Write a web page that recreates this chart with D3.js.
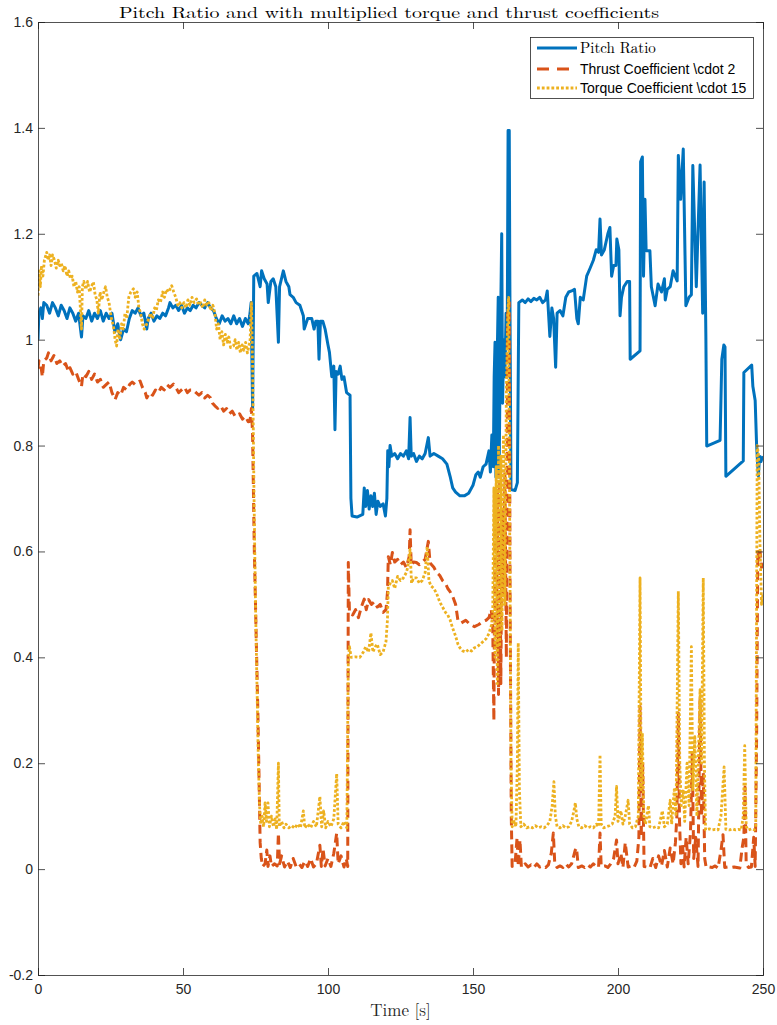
<!DOCTYPE html>
<html>
<head>
<meta charset="utf-8">
<script src="https://cdn.jsdelivr.net/npm/d3@7"></script>
<style>
  body { margin: 0; background: #fff; }
  svg { display: block; }
</style>
</head>
<body>
<script>
const width = 777;
const height = 1025;

const xTicks = [0, 50, 100, 150, 200, 250];
const yTicks = [-0.2, 0, 0.2, 0.4, 0.6, 0.8, 1, 1.2, 1.4, 1.6];

const seriesNames = ['Pitch Ratio', 'Thrust Coefficient \\cdot 2', 'Torque Coefficient \\cdot 15'];

// [time s, value]
const pitchRatio = [
    [0, 1.00], [0.3, 1.05], [1, 1.06], [1.5, 1.04], [2, 1.07], [3, 1.065], [4, 1.05], [5, 1.07],
    [6, 1.06], [7, 1.045], [8, 1.065], [9, 1.055], [10, 1.04], [11, 1.06], [12, 1.05], [13, 1.035],
    [14, 1.05], [15, 1.005], [15.5, 1.045], [16.5, 1.04], [17.5, 1.055], [18.5, 1.035], [19.5, 1.05],
    [20.5, 1.04], [21.5, 1.055], [22.5, 1.035], [23.5, 1.05], [24.5, 1.04], [25.5, 1.05], [26.5, 1.015],
    [27.5, 1.03], [28.5, 1.0], [29.5, 1.02], [30.5, 1.015], [31.5, 1.04], [32.5, 1.055], [33.5, 1.05],
    [34.5, 1.06], [35.5, 1.045], [36.5, 1.05], [37.5, 1.02], [38, 1.04], [39, 1.05], [40, 1.035],
    [41, 1.045], [42, 1.04], [43, 1.05], [44, 1.045], [45, 1.06], [45.5, 1.07], [46.5, 1.06],
    [47.5, 1.065], [48.5, 1.055], [49.5, 1.065], [50.5, 1.05], [51.5, 1.06], [52.5, 1.055],
    [53.5, 1.065], [54.5, 1.06], [55.5, 1.07], [56.5, 1.065], [57.5, 1.06], [58.5, 1.07], [59.5, 1.06],
    [60.5, 1.055], [61.5, 1.04], [62.5, 1.03], [63.5, 1.045], [64.5, 1.035], [65.5, 1.04], [66.5, 1.03],
    [67.5, 1.045], [68.5, 1.03], [69.5, 1.04], [70.5, 1.025], [71.5, 1.04], [72.5, 1.03], [73, 1.045],
    [73.5, 1.07], [74, 0.87], [74.4, 1.12], [75.5, 1.125], [76.6, 1.1], [77.1, 1.13], [78, 1.115],
    [79, 1.105], [79.4, 1.07], [80.3, 1.11], [81.1, 1.115], [82, 1.1], [82.9, 0.995], [83.3, 1.1],
    [84.6, 1.13], [85.5, 1.11], [86.5, 1.1], [86.9, 1.085], [88, 1.08], [89, 1.07], [90.3, 1.065],
    [91.5, 1.045], [91.8, 1.02], [93, 1.04], [94.4, 1.04], [95.2, 1.02], [95.8, 1.035], [96.5, 1.035],
    [96.9, 0.963], [97.4, 1.035], [98.2, 1.035], [99, 1.02], [100, 0.99], [100.5, 0.976], [101.3, 0.93],
    [102, 0.95], [102.4, 0.83], [102.8, 0.94], [103.5, 0.935], [104.2, 0.95], [104.8, 0.925],
    [105.5, 0.93], [106.4, 0.9], [107.6, 0.895], [107.9, 0.70], [108.3, 0.667], [110, 0.665],
    [112, 0.67], [112.5, 0.72], [113, 0.685], [113.6, 0.715], [114.2, 0.68], [114.8, 0.705],
    [115.4, 0.685], [116, 0.71], [116.6, 0.67], [117.2, 0.695], [118, 0.685], [119, 0.69],
    [119.8, 0.667], [120.3, 0.70], [120.6, 0.79], [121, 0.76], [121.4, 0.80], [122, 0.78],
    [123, 0.785], [124, 0.775], [125, 0.785], [126, 0.78], [127, 0.79], [127.8, 0.775], [128.3, 0.853],
    [128.7, 0.78], [129.5, 0.785], [130.5, 0.77], [131.5, 0.78], [132.5, 0.775], [133.5, 0.785],
    [134.6, 0.815], [135.2, 0.78], [136.5, 0.785], [138, 0.78], [139.5, 0.775], [141, 0.765],
    [142.1, 0.742], [143, 0.72], [144, 0.712], [145.5, 0.705], [147, 0.705], [148.5, 0.71],
    [150, 0.725], [151, 0.745], [151.8, 0.75], [152.5, 0.74], [153.5, 0.76], [154.5, 0.765],
    [155.5, 0.79], [156, 0.75], [156.5, 0.82], [157, 0.76], [157.3, 0.93], [157.6, 0.995],
    [157.9, 0.74], [158.3, 0.95], [158.7, 1.08], [159, 0.74], [159.4, 0.98], [159.9, 1.2],
    [160.2, 0.88], [160.6, 1.0], [161, 0.93], [161.4, 1.05], [161.8, 1.0], [162.1, 1.395],
    [162.5, 1.395], [162.7, 1.114], [163.1, 0.717], [164.5, 0.715], [165.3, 0.73], [165.8, 1.07],
    [167, 1.075], [168, 1.07], [169, 1.077], [170, 1.072], [171, 1.078], [172, 1.075], [173, 1.08],
    [174, 1.07], [175, 1.075], [175.6, 1.092], [176.5, 1.006], [177.2, 1.06], [177.8, 1.04],
    [178.5, 0.948], [179, 1.05], [180, 1.055], [181, 1.045], [182, 1.08], [183, 1.09], [184, 1.092],
    [185, 1.095], [185.8, 1.04], [186.3, 1.03], [187, 1.08], [188, 1.075], [189.2, 1.12],
    [190.3, 1.134], [191.5, 1.15], [192.5, 1.17], [193.3, 1.165], [193.8, 1.228], [194.3, 1.16],
    [195.3, 1.17], [196.5, 1.20], [197.2, 1.212], [197.8, 1.12], [198.5, 1.14], [199.3, 1.14],
    [199.6, 1.19], [200.3, 1.17], [200.7, 1.045], [201.2, 1.08], [202, 1.10], [203.2, 1.11],
    [204, 1.11], [204.2, 0.963], [207.6, 0.979], [207.8, 1.336], [208.4, 1.345], [208.8, 1.12],
    [209.3, 1.265], [209.7, 1.168], [211, 1.168], [211.5, 1.10], [212.8, 1.064], [213.8, 1.105],
    [215, 1.09], [216, 1.115], [216.3, 1.075], [217, 1.095], [218, 1.10], [219, 1.13], [220.4, 1.111],
    [220.8, 1.348], [221.6, 1.265], [222.5, 1.36], [223.4, 1.064], [224.5, 1.08], [225.3, 1.085],
    [225.8, 1.329], [227, 1.10], [228.3, 1.33], [229.2, 1.05], [229.7, 1.298], [230.3, 1.007],
    [230.6, 0.799], [235.2, 0.81], [235.8, 0.963], [236.5, 0.99], [236.9, 0.986], [237.2, 0.742],
    [243.2, 0.771], [243.4, 0.938], [246.1, 0.952], [246.5, 0.912], [247.3, 0.885], [247.8, 0.80],
    [248.4, 0.742], [248.8, 0.78], [249.3, 0.77], [249.6, 0.775], [250, 0.78]
];

const thrustCoef = [
    [0, 0.945], [0.3, 0.96], [1, 0.95], [1.5, 0.93], [2, 0.96], [3, 0.965], [3.6, 0.975], [4.5, 0.96],
    [5.5, 0.97], [6.5, 0.955], [7.5, 0.96], [8.5, 0.95], [9.5, 0.955], [10.5, 0.94], [11, 0.947],
    [12, 0.935], [13, 0.94], [14, 0.925], [15, 0.912], [15.5, 0.935], [16.5, 0.93], [17.5, 0.94],
    [18.5, 0.925], [19.5, 0.935], [20.5, 0.92], [21.5, 0.925], [22.5, 0.91], [23.5, 0.915],
    [24.5, 0.92], [25.5, 0.9], [26.6, 0.887], [27.5, 0.9], [28.5, 0.895], [29.5, 0.91], [30.5, 0.905],
    [31.7, 0.916], [32.5, 0.92], [33.5, 0.915], [34.5, 0.92], [35.2, 0.922], [36, 0.91], [37, 0.9],
    [37.5, 0.89], [38.5, 0.9], [39.5, 0.895], [40.5, 0.905], [41.5, 0.9], [42.5, 0.91], [43.5, 0.905],
    [44.5, 0.915], [45.5, 0.91], [46.7, 0.916], [47.5, 0.91], [48.5, 0.9], [49.5, 0.905], [50.5, 0.91],
    [51.5, 0.9], [52.5, 0.905], [53.6, 0.905], [54.5, 0.9], [55.5, 0.895], [56.5, 0.9], [57.5, 0.89],
    [58.5, 0.895], [59.5, 0.89], [60.2, 0.88], [61, 0.875], [62, 0.87], [63, 0.875], [64, 0.865],
    [65, 0.87], [66, 0.86], [67, 0.865], [68, 0.855], [68.5, 0.856], [69.5, 0.86], [70.5, 0.85],
    [71.5, 0.855], [72.5, 0.845], [73.1, 0.846], [73.6, 0.87], [74, 0.82], [74.6, 0.6], [75.2, 0.45],
    [75.8, 0.3], [76.3, 0.15], [76.6, 0.05], [77, 0.02], [77.5, 0.005], [78.3, 0.01], [78.9, 0.036],
    [79.3, 0.005], [80, 0.025], [80.5, 0.005], [81.5, 0.01], [82.5, 0.006], [82.9, 0.068], [83.3, 0.01],
    [84, 0.025], [85, 0.004], [86, 0.015], [87, 0.003], [88, 0.02], [89, 0.005], [90, 0.01],
    [91, 0.003], [92, 0.015], [93, 0.005], [94, 0.02], [95, 0.004], [96, 0.01], [97.2, 0.045],
    [97.7, 0.005], [98.3, 0.038], [99, 0.006], [100, 0.02], [101, 0.005], [102, 0.03], [103, 0.068],
    [103.5, 0.01], [104.5, 0.025], [105.5, 0.004], [106.3, 0.02], [106.8, 0.005], [107, 0.579],
    [107.4, 0.484], [108.5, 0.48], [109.5, 0.49], [110.5, 0.475], [111.5, 0.495], [112.5, 0.51],
    [113.2, 0.49], [114, 0.509], [115, 0.5], [116, 0.505], [117, 0.495], [118, 0.5], [119, 0.485],
    [120, 0.49], [120.5, 0.522], [120.8, 0.59], [121.5, 0.575], [122.2, 0.598], [123, 0.58],
    [124, 0.585], [125, 0.575], [126, 0.58], [127, 0.57], [128, 0.59], [128.3, 0.641], [128.7, 0.575],
    [129.5, 0.58], [130.5, 0.579], [131.5, 0.575], [132.5, 0.58], [133.5, 0.585], [134.6, 0.619],
    [135.2, 0.578], [136.5, 0.57], [137.5, 0.56], [138.5, 0.555], [139.5, 0.545], [140.5, 0.54],
    [141.3, 0.53], [142.1, 0.524], [143, 0.515], [144, 0.5], [144.8, 0.47], [146, 0.465],
    [147.5, 0.47], [149, 0.462], [150.5, 0.458], [152, 0.462], [153.5, 0.468], [154.5, 0.47],
    [155.5, 0.475], [156.3, 0.49], [156.8, 0.46], [157.2, 0.28], [157.6, 0.7], [158, 0.42],
    [158.4, 0.72], [158.8, 0.33], [159.2, 0.75], [159.6, 0.35], [160, 0.68], [160.5, 0.52],
    [161, 0.75], [161.5, 0.4], [162, 1.05], [162.5, 1.07], [162.8, 0.5], [163.2, 0.1], [163.5, 0.005],
    [164.5, 0.01], [165.2, 0.06], [165.6, 0.005], [166.2, 0.055], [166.7, 0.003], [168, 0.01],
    [169, 0.004], [170, 0.008], [171, 0.003], [172, 0.01], [173, 0.004], [174, 0.006], [175, 0.003],
    [176, 0.008], [177, 0.03], [177.7, 0.068], [178.2, 0.01], [179, 0.003], [180, 0.006], [181, 0.003],
    [182, 0.01], [183, 0.004], [184, 0.01], [185.2, 0.035], [185.7, 0.04], [186.3, 0.003],
    [187.5, 0.006], [188.5, 0.003], [189.5, 0.008], [190.5, 0.004], [191.5, 0.01], [192.5, 0.005],
    [193.3, 0.003], [193.8, 0.068], [194.2, 0.005], [195.5, 0.006], [196.5, 0.003], [197.5, 0.01],
    [198.5, 0.02], [199.5, 0.055], [200, 0.01], [201, 0.03], [201.7, 0.003], [202.5, 0.05],
    [203.5, 0.004], [204.5, 0.006], [205.5, 0.003], [206.5, 0.015], [207.2, 0.06], [207.6, 0.307],
    [208, 0.06], [208.5, 0.2], [209, 0.005], [210, 0.004], [211, 0.002], [212, 0.02], [213, 0.003],
    [214, 0.025], [215, 0.006], [216, 0.035], [217, 0.004], [218, 0.04], [219, 0.01], [219.8, 0.05],
    [220.3, 0.1], [220.8, 0.295], [221.2, 0.093], [221.7, 0.01], [222.2, 0.05], [222.8, 0.004],
    [223.5, 0.06], [224.2, 0.01], [225, 0.07], [225.6, 0.219], [226.1, 0.02], [226.8, 0.06],
    [227.6, 0.005], [228.3, 0.32], [228.8, 0.1], [229.4, 0.182], [229.9, 0.02], [230.4, 0.003],
    [231.5, 0.004], [232.5, 0.003], [233.5, 0.006], [234.5, 0.002], [235.5, 0.035], [236.2, 0.065],
    [236.8, 0.003], [238, 0.004], [239, 0.003], [240, 0.004], [241, 0.003], [242, 0.002],
    [242.8, 0.04], [243.4, 0.06], [243.8, 0.155], [244.2, 0.01], [245, 0.003], [246, 0.004],
    [246.8, 0.06], [247.3, 0.005], [247.8, 0.25], [248.2, 0.6], [248.6, 0.585], [249, 0.6],
    [249.5, 0.57], [250, 0.585]
];

const torqueCoef = [
    [0, 1.083], [0.4, 1.13], [0.8, 1.1], [1.2, 1.14], [1.7, 1.12], [2.2, 1.15], [3, 1.165], [3.5, 1.15],
    [4, 1.16], [4.5, 1.14], [5, 1.16], [5.7, 1.15], [6.3, 1.135], [7, 1.15], [7.5, 1.14], [8, 1.145],
    [8.7, 1.13], [9.3, 1.14], [10, 1.12], [10.6, 1.13], [11.2, 1.115], [11.8, 1.12], [12.4, 1.1],
    [13, 1.11], [13.6, 1.09], [14.2, 1.10], [14.5, 1.07], [15, 1.02], [15.3, 1.10], [15.8, 1.11],
    [16.5, 1.095], [17.1, 1.11], [17.8, 1.09], [18.4, 1.1], [19.1, 1.109], [19.7, 1.085],
    [20.3, 1.075], [20.8, 1.05], [21.4, 1.09], [22, 1.075], [22.7, 1.09], [23.3, 1.1], [23.9, 1.08],
    [24.5, 1.07], [25.3, 1.04], [26, 1.026], [26.6, 1.0], [27.1, 0.988], [27.6, 1.02], [28.2, 1.0],
    [28.8, 1.03], [29.4, 1.02], [30, 1.05], [30.6, 1.04], [31.3, 1.08], [32, 1.09], [32.9, 1.096],
    [33.5, 1.08], [34.2, 1.09], [34.8, 1.06], [35.4, 1.05], [36, 1.03], [36.6, 1.02], [37.5, 1.03],
    [38.2, 1.04], [38.8, 1.05], [39.5, 1.04], [40.2, 1.06], [40.8, 1.055], [41.5, 1.075], [42.2, 1.07],
    [43, 1.09], [43.6, 1.08], [44.3, 1.095], [45, 1.09], [46.1, 1.102], [46.8, 1.09], [47.5, 1.08],
    [48.2, 1.065], [48.9, 1.07], [49.6, 1.06], [50.3, 1.07], [51, 1.06], [51.7, 1.075], [52.4, 1.065],
    [53.1, 1.08], [53.8, 1.07], [54.7, 1.077], [55.4, 1.065], [56.1, 1.07], [56.8, 1.06], [57.5, 1.075],
    [58.2, 1.065], [58.9, 1.07], [59.6, 1.055], [60.3, 1.065], [61, 1.05], [61.6, 1.02], [62.2, 1.03],
    [62.8, 1.0], [63.4, 1.015], [64, 0.99], [64.6, 1.01], [65.2, 0.995], [65.8, 1.005], [66.4, 0.985],
    [67.4, 0.988], [68, 1.0], [68.6, 0.98], [69.2, 0.995], [69.8, 0.975], [70.4, 0.99], [71, 0.98],
    [71.6, 0.995], [72.2, 0.975], [72.8, 0.99], [73.1, 0.995], [73.6, 1.07], [74, 0.95], [74.5, 0.7],
    [75, 0.5], [75.5, 0.35], [76, 0.2], [76.4, 0.12], [76.8, 0.085], [77.3, 0.1], [77.8, 0.08],
    [78.3, 0.125], [78.8, 0.09], [79.3, 0.125], [79.8, 0.08], [80.5, 0.1], [81.2, 0.08], [81.8, 0.095],
    [82.3, 0.075], [82.9, 0.2], [83.2, 0.08], [84, 0.09], [84.8, 0.078], [85.5, 0.085], [86.5, 0.078],
    [87.5, 0.082], [88.5, 0.077], [89.5, 0.085], [90.5, 0.078], [91.5, 0.11], [92, 0.078], [93, 0.085],
    [94, 0.078], [95, 0.09], [96, 0.08], [97.2, 0.137], [97.8, 0.08], [98.5, 0.11], [99.2, 0.078],
    [100, 0.09], [101, 0.08], [102, 0.095], [103, 0.18], [103.5, 0.085], [104.5, 0.078], [105.5, 0.09],
    [106.5, 0.078], [107, 0.395], [107.4, 0.42], [108, 0.40], [109.5, 0.401], [111, 0.40],
    [112.2, 0.41], [113, 0.42], [114, 0.41], [114.8, 0.446], [115.5, 0.41], [116.3, 0.42],
    [117, 0.425], [118, 0.405], [119, 0.41], [120, 0.43], [120.5, 0.471], [120.8, 0.534],
    [121.5, 0.54], [122.2, 0.545], [123, 0.53], [124, 0.553], [125, 0.545], [126, 0.55], [127, 0.56],
    [127.5, 0.57], [128.3, 0.604], [128.8, 0.54], [129.5, 0.55], [130.5, 0.55], [131.5, 0.54],
    [132.5, 0.545], [133.5, 0.56], [134.2, 0.609], [134.8, 0.545], [135.5, 0.535], [136.5, 0.53],
    [137.5, 0.52], [138.5, 0.505], [139.5, 0.495], [140.5, 0.485], [141.3, 0.48], [142.1, 0.471],
    [143, 0.455], [144, 0.44], [144.8, 0.425], [145.5, 0.418], [146.5, 0.412], [147.5, 0.41],
    [148.5, 0.415], [149.5, 0.412], [150.5, 0.418], [151.5, 0.42], [152.5, 0.425], [153.5, 0.43],
    [154.5, 0.435], [155.5, 0.445], [156.3, 0.46], [156.8, 0.48], [157.2, 0.72], [157.6, 0.4],
    [158, 0.76], [158.4, 0.35], [158.8, 0.8], [159.2, 0.42], [159.6, 0.78], [160, 0.45], [160.5, 0.82],
    [161, 0.5], [161.5, 0.9], [162, 1.05], [162.3, 1.08], [162.7, 0.6], [163.1, 0.2], [163.5, 0.08],
    [164.2, 0.09], [164.8, 0.08], [165.3, 0.2], [165.6, 0.427], [166, 0.15], [166.5, 0.08],
    [167.5, 0.085], [168.5, 0.078], [169.5, 0.08], [170.5, 0.078], [171.5, 0.082], [172.5, 0.078],
    [173.5, 0.08], [174.5, 0.078], [175.5, 0.082], [176.5, 0.09], [177.3, 0.12], [177.9, 0.165],
    [178.4, 0.1], [179, 0.08], [180, 0.078], [181, 0.082], [182, 0.078], [183, 0.08], [184, 0.09],
    [184.8, 0.11], [185.3, 0.125], [185.8, 0.095], [186.5, 0.08], [187.5, 0.078], [188.5, 0.082],
    [189.5, 0.078], [190.5, 0.08], [191.5, 0.078], [192.5, 0.085], [193.3, 0.08], [193.8, 0.216],
    [194.2, 0.085], [195, 0.078], [196, 0.08], [197, 0.082], [198, 0.085], [199, 0.1], [199.5, 0.156],
    [200, 0.09], [201, 0.11], [201.7, 0.085], [202.5, 0.1], [203.5, 0.13], [204, 0.085], [205, 0.078],
    [206, 0.08], [207, 0.1], [207.6, 0.55], [208, 0.15], [208.4, 0.257], [208.9, 0.1], [209.5, 0.085],
    [210.5, 0.12], [211, 0.08], [212, 0.078], [213, 0.08], [214, 0.078], [215.3, 0.11], [216, 0.08],
    [217, 0.085], [218, 0.13], [218.5, 0.085], [219.4, 0.15], [220, 0.1], [220.8, 0.525], [221.3, 0.2],
    [221.8, 0.12], [222.5, 0.15], [223, 0.09], [223.8, 0.2], [224.5, 0.12], [225.3, 0.42],
    [225.8, 0.15], [226.5, 0.25], [227.2, 0.1], [228.3, 0.339], [228.8, 0.2], [229.4, 0.55],
    [229.8, 0.2], [230.2, 0.074], [231.5, 0.076], [232.5, 0.074], [233.5, 0.075], [234.5, 0.074],
    [235.5, 0.1], [236.6, 0.193], [237.2, 0.075], [238.5, 0.074], [239.5, 0.076], [240.5, 0.074],
    [241.5, 0.075], [242.5, 0.074], [243.2, 0.1], [243.7, 0.233], [244.2, 0.08], [245, 0.074],
    [246, 0.076], [247, 0.074], [247.5, 0.08], [248, 0.8], [248.5, 0.78], [249, 0.6], [249.5, 0.5],
    [250, 0.52]
];

const colors = ['#0072bd', '#d95319', '#edb120'];
const dashes = [null, '9,5', '2.8,2'];
const widths = [3, 3, 2.8];

const plotLeft = 38, plotRight = 763, plotTop = 22, plotBottom = 975;
const axisColor = '#262626';
const sans = '"Liberation Sans", Arial, Helvetica, sans-serif';
const serif = '"Latin Modern Roman", "CMU Serif", "Liberation Serif", "Times New Roman", serif';

const x = d3.scaleLinear().domain([0, 250]).range([plotLeft, plotRight]);
const y = d3.scaleLinear().domain([-0.2, 1.6]).range([plotBottom, plotTop]);

const svg = d3.select('body')
    .append('svg')
    .attr('width', width)
    .attr('height', height)
    .style('background', '#fff');

svg.append('defs').append('clipPath')
    .attr('id', 'plot-clip')
    .append('rect')
    .attr('x', plotLeft)
    .attr('y', plotTop)
    .attr('width', plotRight - plotLeft)
    .attr('height', plotBottom - plotTop);

const line = d3.line()
    .x(d => x(d[0]))
    .y(d => y(d[1]));

const plot = svg.append('g').attr('clip-path', 'url(#plot-clip)');

[pitchRatio, thrustCoef, torqueCoef].forEach((series, i) => {
    plot.append('path')
        .datum(series)
        .attr('d', line)
        .attr('fill', 'none')
        .attr('stroke', colors[i])
        .attr('stroke-width', widths[i])
        .attr('stroke-dasharray', dashes[i])
        .attr('stroke-linejoin', 'round');
});

// axes, ticks point inward on all four sides
const fmt = d => String(Math.round(d * 10) / 10);

const xAxis = svg.append('g')
    .attr('transform', `translate(0,${plotBottom})`)
    .call(d3.axisBottom(x).tickValues(xTicks).tickSize(-7).tickPadding(9).tickFormat(fmt));

const xAxisTop = svg.append('g')
    .attr('transform', `translate(0,${plotTop})`)
    .call(d3.axisTop(x).tickValues(xTicks).tickSize(-7).tickFormat(''));

const yAxis = svg.append('g')
    .attr('transform', `translate(${plotLeft},0)`)
    .call(d3.axisLeft(y).tickValues(yTicks).tickSize(-7).tickPadding(5).tickFormat(fmt));

const yAxisRight = svg.append('g')
    .attr('transform', `translate(${plotRight},0)`)
    .call(d3.axisRight(y).tickValues(yTicks).tickSize(-7).tickFormat(''));

[xAxis, xAxisTop, yAxis, yAxisRight].forEach(g => {
    g.select('.domain').attr('stroke', axisColor).attr('stroke-width', 0.8);
    g.selectAll('.tick line').attr('stroke', axisColor).attr('stroke-width', 0.8);
    g.selectAll('.tick text')
        .attr('fill', axisColor)
        .style('font-family', sans)
        .style('font-size', '14px');
});

svg.append('text')
    .attr('x', 389)
    .attr('y', 18)
    .attr('text-anchor', 'middle')
    .attr('textLength', 540)
    .attr('lengthAdjust', 'spacingAndGlyphs')
    .style('font-family', serif)
    .style('font-size', '16px')
    .attr('fill', '#000')
    .text('Pitch Ratio and with multiplied torque and thrust coefficients');

svg.append('text')
    .attr('x', (plotLeft + plotRight) / 2)
    .attr('y', 1016)
    .attr('text-anchor', 'middle')
    .style('font-family', serif)
    .style('font-size', '17px')
    .attr('fill', '#262626')
    .text('Time [s]');

// legend
const legend = svg.append('g');

legend.append('rect')
    .attr('x', 530.5)
    .attr('y', 37.5)
    .attr('width', 223)
    .attr('height', 61)
    .attr('fill', '#fff')
    .attr('stroke', axisColor)
    .attr('stroke-width', 0.8);

const legendRows = [48, 69, 88];

seriesNames.forEach((name, i) => {
    legend.append('line')
        .attr('x1', 537)
        .attr('x2', 577)
        .attr('y1', legendRows[i])
        .attr('y2', legendRows[i])
        .attr('stroke', colors[i])
        .attr('stroke-width', widths[i])
        .attr('stroke-dasharray', i === 1 ? '12,8' : dashes[i]);

    legend.append('text')
        .attr('x', 580)
        .attr('y', legendRows[i])
        .attr('dy', '0.35em')
        .style('font-family', i === 0 ? serif : sans)
        .style('font-size', i === 0 ? '15px' : '14px')
        .attr('fill', '#000')
        .text(name);
});
</script>
</body>
</html>
